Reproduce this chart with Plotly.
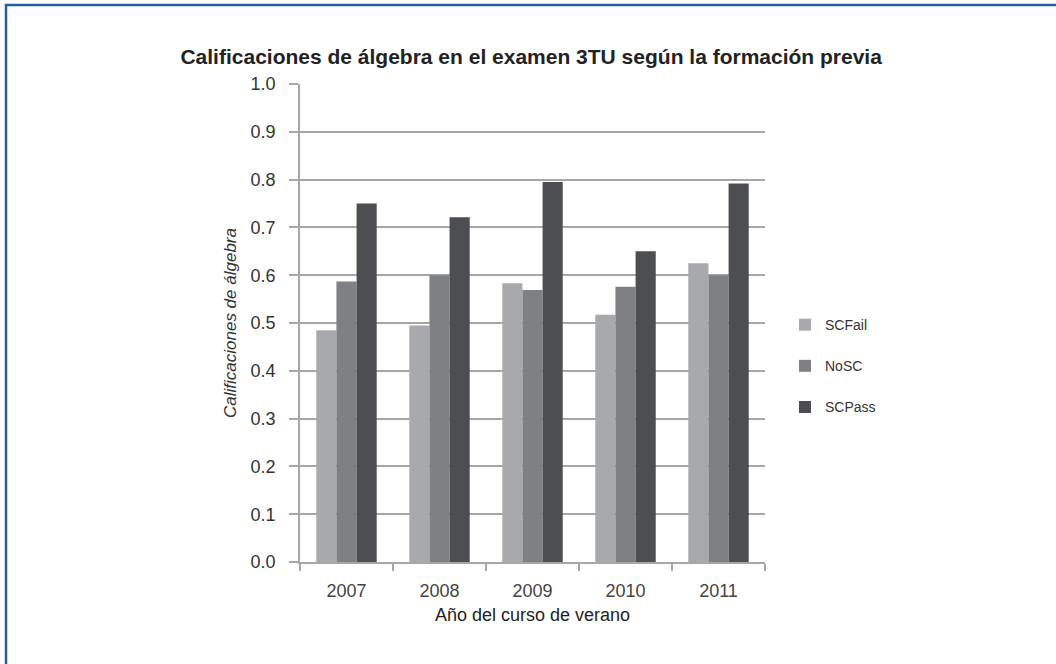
import plotly.graph_objects as go

years = ["2007", "2008", "2009", "2010", "2011"]
sc_fail = [0.485, 0.495, 0.583, 0.517, 0.625]
no_sc = [0.587, 0.600, 0.569, 0.576, 0.600]
sc_pass = [0.750, 0.721, 0.795, 0.650, 0.792]

series = [
    ("SCFail", sc_fail, "#a7a9ac"),
    ("NoSC", no_sc, "#7f8084"),
    ("SCPass", sc_pass, "#4d4e52"),
]

FONT = "Liberation Sans, Arial, Helvetica, sans-serif"
GRID = "#a6a6a6"

fig = go.Figure()
for name, vals, color in series:
    fig.add_trace(
        go.Bar(x=years, y=vals, name=name, marker_color=color, marker_line_width=0, legendgroup=name)
    )

fig.update_layout(
    width=1056,
    height=664,
    paper_bgcolor="white",
    plot_bgcolor="white",
    barmode="group",
    bargap=0.35,
    bargroupgap=0,
    margin=dict(l=300, r=291, t=84, b=102),
    font=dict(family=FONT, color="#333333"),
    title=dict(
        text="<b>Calificaciones de álgebra en el examen 3TU según la formación previa</b>",
        x=0.503,
        xanchor="center",
        y=1 - 57 / 664,
        yanchor="middle",
        font=dict(size=21, color="#222222"),
    ),
    legend=dict(
        x=1.043,
        xanchor="left",
        y=0.41,
        yanchor="middle",
        font=dict(size=14, color="#333333"),
        tracegroupgap=20,
        itemwidth=30,
    ),
    shapes=[
        dict(
            type="rect",
            xref="paper",
            yref="paper",
            x0=(6 - 300) / 465,
            x1=2.0,
            y0=-1.0,
            y1=(562 - 5) / 478,
            line=dict(color="#1f5f9f", width=2.5),
            fillcolor="rgba(0,0,0,0)",
            layer="below",
        )
    ],
)

fig.update_yaxes(
    range=[0, 1.0],
    dtick=0.1,
    tickformat=".1f",
    showgrid=True,
    gridcolor=GRID,
    gridwidth=1.5,
    showline=True,
    linecolor=GRID,
    linewidth=1.5,
    ticks="outside",
    ticklen=9,
    tickcolor=GRID,
    tickwidth=1.5,
    ticklabelstandoff=10,
    tickfont=dict(size=18, color="#333333"),
    zeroline=False,
    title=dict(
        text="Calificaciones de álgebra",
        font=dict(size=17, color="#333333", style="italic"),
        standoff=10,
    ),
)

fig.update_xaxes(
    showline=True,
    linecolor=GRID,
    linewidth=1.5,
    ticks="outside",
    tickson="boundaries",
    ticklen=7,
    tickcolor=GRID,
    tickwidth=1.5,
    ticklabelstandoff=12,
    tickfont=dict(size=18, color="#444444"),
    title=dict(
        text="Año del curso de verano",
        font=dict(size=18, color="#222222"),
        standoff=8,
    ),
)

fig.write_html(
    "out.html",
    config={"displayModeBar": False},
    post_script="document.body.style.margin='0';",
)
